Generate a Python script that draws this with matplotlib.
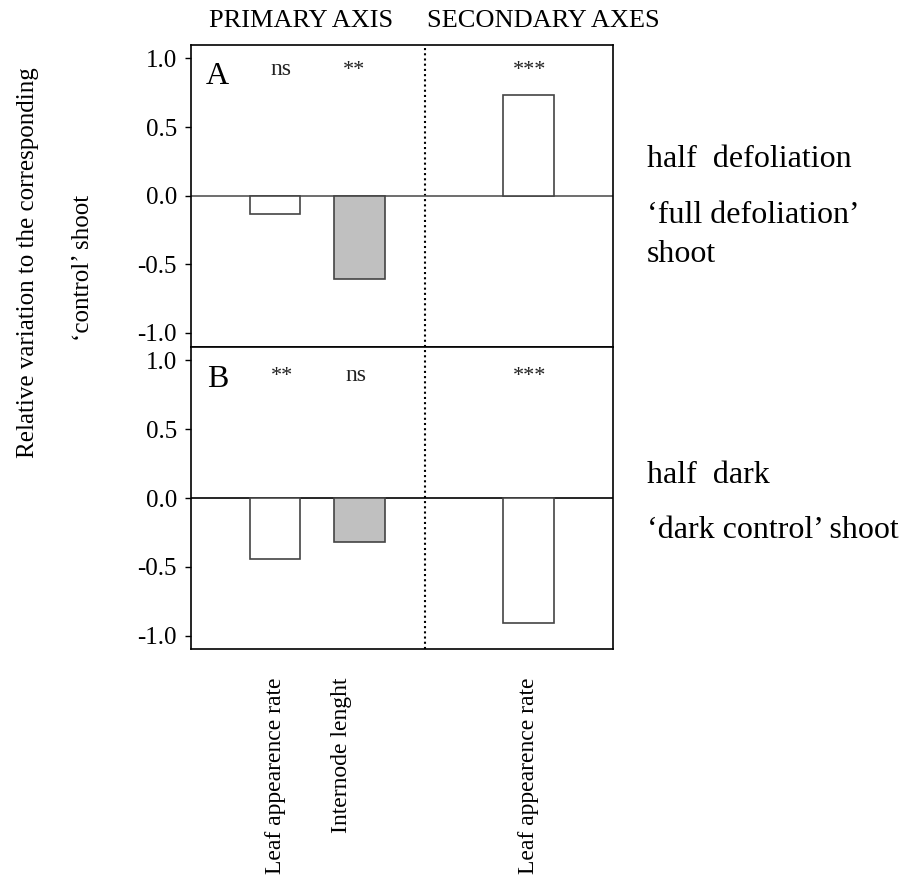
import matplotlib
matplotlib.use("Agg")
import matplotlib.pyplot as plt
import numpy as np

plt.rcParams['font.family'] = ['Liberation Serif', 'DejaVu Serif']
plt.rcParams['axes.unicode_minus'] = False

# bar positions (primary axis: 2 bars, secondary axes: 1 bar)
bar_pos = [1, 2, 4]
bar_colors = ['white', '#c0c0c0', 'white']
label_pos = [1, 1.78, 4]
labels = ['Leaf appearence rate', 'Internode lenght', 'Leaf appearence rate']

# panel A: half defoliation vs 'full defoliation' shoot
vals_a = [-0.13, -0.61, 0.735]
sig_a = ['ns', '**', '***']
sig_a_x = [1.07, 1.93, 4.01]

# panel B: half dark vs 'dark control' shoot
vals_b = [-0.44, -0.32, -0.91]
sig_b = ['**', 'ns', '***']
sig_b_x = [1.08, 1.96, 4.01]

divider_x = 2.78

fig = plt.figure(figsize=(9.05, 8.76), dpi=100)
ax_a = fig.add_axes([0.2107, 0.6042, 0.4666, 0.3448])
ax_b = fig.add_axes([0.2107, 0.2588, 0.4666, 0.3454])

panels = [(ax_a, vals_a, sig_a, sig_a_x, 'A', 0.878, '#555555'),
          (ax_b, vals_b, sig_b, sig_b_x, 'B', 0.853, 'black')]

for ax, vals, sig, sig_x, letter, sig_y, zcol in panels:
    ax.bar(bar_pos, vals, width=0.6, color=bar_colors, edgecolor='#444444',
           linewidth=1.2, zorder=3)
    ax.axhline(0, color=zcol, lw=1.2, zorder=2)
    ax.axvline(divider_x, color='black', lw=1.5, ls=(0, (1, 1.5)), zorder=1)
    ax.set_xlim(0, 5)
    ax.set_ylim(-1.1, 1.1)
    ax.set_yticks([-1.0, -0.5, 0.0, 0.5, 1.0])
    ax.set_yticklabels(['-1.0', '-0.5', '0.0', '0.5', '1.0'])
    ax.tick_params(axis='y', direction='out', length=4, width=1,
                   labelsize=18, pad=6)
    for s in ax.spines.values():
        s.set_linewidth(1.2)
    for t, x in zip(sig, sig_x):
        fs = 17 if t == 'ns' else 16
        ax.text(x, sig_y, t, ha='center', va='baseline', fontsize=fs,
                color='#222222')
    ax.text(0.32, 0.865, letter, ha='center', va='center', fontsize=23)

ax_a.set_xticks([])
ax_b.set_xticks(label_pos)
ax_b.set_xticklabels(labels, rotation=90, fontsize=17, va='top', ha='center')
ax_b.tick_params(axis='x', length=0, pad=20)

# column headers
fig.text(0.333, 0.9695, 'PRIMARY AXIS', ha='center', va='baseline', fontsize=19)
fig.text(0.600, 0.9695, 'SECONDARY AXES', ha='center', va='baseline', fontsize=19)

# y label (two lines)
fig.text(0.031, 0.70, 'Relative variation to the corresponding', rotation=90,
         ha='center', va='center', fontsize=18)
fig.text(0.092, 0.694, '\u2018control\u2019 shoot', rotation=90,
         ha='center', va='center', fontsize=18)

# comparison legends on the right
fig.text(0.715, 0.8094, 'half  defoliation', fontsize=23, va='baseline')
fig.text(0.715, 0.7454, '\u2018full defoliation\u2019', fontsize=23, va='baseline')
fig.text(0.715, 0.7009, 'shoot', fontsize=23, va='baseline')
fig.text(0.715, 0.4486, 'half  dark', fontsize=23, va='baseline')
fig.text(0.715, 0.3858, '\u2018dark control\u2019 shoot', fontsize=23, va='baseline')

fig.savefig('out.png', dpi=100)
